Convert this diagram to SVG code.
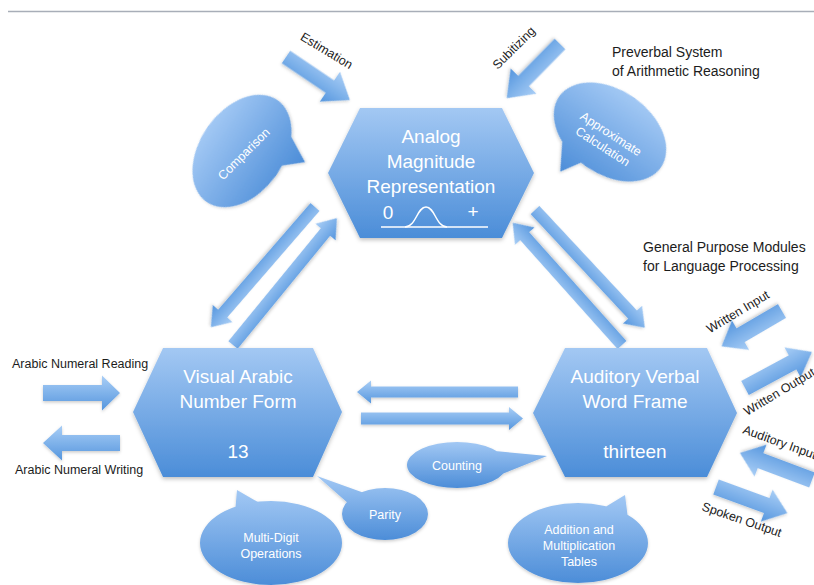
<svg xmlns="http://www.w3.org/2000/svg" width="814" height="585" viewBox="0 0 814 585">
<style>
text{font-family:"Liberation Sans","DejaVu Sans",Arial,sans-serif}
.hx{fill:url(#gHex);filter:url(#sh)}
.ht{fill:#fff;font-size:19px;text-anchor:middle}
.ar{fill:url(#gArr);filter:url(#sh2)}
.bb{fill:url(#gBub);filter:url(#sh2)}
.bt{fill:#fff;font-size:12.5px;text-anchor:middle}
.lb{fill:#1c1c1c;font-size:12.5px}
.tt{fill:#1c1c1c;font-size:14px}
</style>
<defs>
<linearGradient id="gHex" x1="0" y1="0" x2="0" y2="1"><stop offset="0" stop-color="#a3c8f3"/><stop offset="1" stop-color="#4b8dd8"/></linearGradient>
<linearGradient id="gArr" x1="0" y1="0" x2="0" y2="1"><stop offset="0" stop-color="#a9cef6"/><stop offset="1" stop-color="#5596de"/></linearGradient>
<linearGradient id="gBub" x1="0" y1="0" x2="0" y2="1"><stop offset="0" stop-color="#a2c8f4"/><stop offset="1" stop-color="#4c8dd8"/></linearGradient>
<filter id="sh" x="-10%" y="-10%" width="120%" height="130%"><feDropShadow dx="0" dy="2" stdDeviation="2" flood-color="#000" flood-opacity="0.25"/></filter>
<filter id="sh2" x="-20%" y="-20%" width="140%" height="140%"><feDropShadow dx="0" dy="1.5" stdDeviation="1.5" flood-color="#000" flood-opacity="0.2"/></filter>
</defs>
<rect width="814" height="585" fill="#fff"/>
<line x1="8" y1="11.5" x2="814" y2="11.5" stroke="#a8aeb8" stroke-width="1.5"/>

<g id="connectors">
<polygon class="ar" transform="translate(286,57) rotate(34)" points="0,-7.5 53,-7.5 53,-18 77,0 53,18 53,7.5 0,7.5"/>
<polygon class="ar" transform="translate(560,44) rotate(134.5)" points="0,-7.5 52,-7.5 52,-18 76,0 52,18 52,7.5 0,7.5"/>
<polygon class="ar" transform="translate(315,207) rotate(130.9)" points="0,-6 141,-6 141,-13 159,0 141,13 141,6 0,6"/>
<polygon class="ar" transform="translate(233,345) rotate(-50.7)" points="0,-6 146,-6 146,-13 164,0 146,13 146,6 0,6"/>
<polygon class="ar" transform="translate(535,210) rotate(47)" points="0,-6 143,-6 143,-13 161,0 143,13 143,6 0,6"/>
<polygon class="ar" transform="translate(622,345) rotate(228.2)" points="0,-6 146,-6 146,-13 164,0 146,13 146,6 0,6"/>
<polygon class="ar" transform="translate(518,392) scale(-1,1)" points="0,-5.5 147,-5.5 147,-11.5 161,0 147,11.5 147,5.5 0,5.5"/>
<polygon class="ar" transform="translate(361,418.5)" points="0,-6 148,-6 148,-11.5 162,0 148,11.5 148,6 0,6"/>
<polygon class="ar" transform="translate(43,393)" points="0,-8 59,-8 59,-17.5 77,0 59,17.5 59,8 0,8"/>
<polygon class="ar" transform="translate(120,443) scale(-1,1)" points="0,-8 58,-8 58,-17.5 77,0 58,17.5 58,8 0,8"/>
<polygon class="ar" transform="translate(782,311) rotate(149.7)" points="0,-8 48,-8 48,-17 70,0 48,17 48,8 0,8"/>
<polygon class="ar" transform="translate(745,388) rotate(-28.3)" points="0,-8 54,-8 54,-17 76,0 54,17 54,8 0,8"/>
<polygon class="ar" transform="translate(812,480) rotate(200.6)" points="0,-8 55,-8 55,-17 77,0 55,17 55,8 0,8"/>
<polygon class="ar" transform="translate(716,487) rotate(20.1)" points="0,-8 54,-8 54,-17 76,0 54,17 54,8 0,8"/>
</g>

<g id="labels">
<text class="lb" font-size="14" text-anchor="middle" transform="translate(327,50) rotate(31)" y="5">Estimation</text>
<text class="lb" font-size="13" text-anchor="middle" transform="translate(514,48) rotate(-45)" y="4">Subitizing</text>
<text class="tt" x="612" y="57">Preverbal System</text>
<text class="tt" x="612" y="76">of Arithmetic Reasoning</text>
<text class="tt" x="643" y="252">General Purpose Modules</text>
<text class="tt" x="643" y="271">for Language Processing</text>
<text class="lb" x="12" y="368">Arabic Numeral Reading</text>
<text class="lb" x="15" y="474">Arabic Numeral Writing</text>
<text class="lb" font-size="13" text-anchor="middle" transform="translate(738,312) rotate(-31)" y="4">Written Input</text>
<text class="lb" font-size="13" transform="translate(747,416) rotate(-31)">Written Output</text>
<text class="lb" font-size="13" transform="translate(742,433) rotate(20)">Auditory Input</text>
<text class="lb" font-size="13" transform="translate(701,510) rotate(19)">Spoken Output</text>
</g>

<g id="analog">
<polygon class="hx" points="328,173 360,108 502,108 534,173 502,238 360,238"/>
<text class="ht" x="431" y="143">Analog</text>
<text class="ht" x="431" y="168">Magnitude</text>
<text class="ht" x="431" y="193">Representation</text>
<text class="ht" x="388" y="219">0</text>
<text class="ht" x="473" y="218">+</text>
<line x1="381" y1="227" x2="488" y2="227" stroke="#fff" stroke-width="1.5"/>
<path d="M405,227 C416,227 417,207 426,207 C435,207 436,227 447,227" fill="none" stroke="#fff" stroke-width="1.5"/>
</g>

<g id="visual">
<polygon class="hx" points="133,412 163,348 313,348 342,412 313,477 163,477"/>
<text class="ht" x="238" y="383">Visual Arabic</text>
<text class="ht" x="238" y="408">Number Form</text>
<text class="ht" x="238" y="458">13</text>
</g>

<g id="auditory">
<polygon class="hx" points="533,413 565,348 707,348 737,413 707,477 565,477"/>
<text class="ht" x="635" y="383">Auditory Verbal</text>
<text class="ht" x="635" y="408">Word Frame</text>
<text class="ht" x="635" y="458">thirteen</text>
</g>

<g id="comparison">
<path class="bb" transform="translate(242,151) rotate(-55)" d="M-62,0 A62,42 0 1,1 62,0 A62,42 0 1,1 -62,0 Z M42,28 L27,58 L8,38 Z"/>
<text class="bt" font-size="13" transform="translate(244,154) rotate(-45)" y="4">Comparison</text>
</g>

<g id="approx">
<path class="bb" transform="translate(610,132) rotate(35)" d="M-62,0 A62,42 0 1,1 62,0 A62,42 0 1,1 -62,0 Z M-4,38 L-18,61 L-38,28 Z"/>
<text class="bt" transform="translate(607,140) rotate(33)" y="-3">Approximate</text>
<text class="bt" transform="translate(607,140) rotate(33)" y="12">Calculation</text>
</g>

<g id="counting">
<path class="bb" transform="translate(457,465)" d="M-50,0 A50,23 0 1,1 50,0 A50,23 0 1,1 -50,0 Z M38,-14 L90,-9 L40,11 Z"/>
<text class="bt" font-size="13" x="457" y="470">Counting</text>
</g>

<g id="parity">
<path class="bb" transform="translate(385,514)" d="M-43,0 A43,26 0 1,1 43,0 A43,26 0 1,1 -43,0 Z M-36,-10 L-68,-38 L-18,-20 Z"/>
<text class="bt" font-size="13.5" x="385" y="519">Parity</text>
</g>

<g id="multidigit">
<path class="bb" transform="translate(271,543)" d="M-71,0 A71,42 0 1,1 71,0 A71,42 0 1,1 -71,0 Z M-36,-30 L-34,-53 L-8,-38 Z"/>
<text class="bt" font-size="13" x="271" y="542">Multi-Digit</text>
<text class="bt" font-size="13" x="271" y="558">Operations</text>
</g>

<g id="tables">
<path class="bb" transform="translate(578,543)" d="M-70,0 A70,40 0 1,1 70,0 A70,40 0 1,1 -70,0 Z M24,-34 L47,-48 L50,-24 Z"/>
<text class="bt" font-size="13" x="579" y="534">Addition and</text>
<text class="bt" font-size="13" x="579" y="550">Multiplication</text>
<text class="bt" font-size="13" x="579" y="566">Tables</text>
</g>
</svg>
